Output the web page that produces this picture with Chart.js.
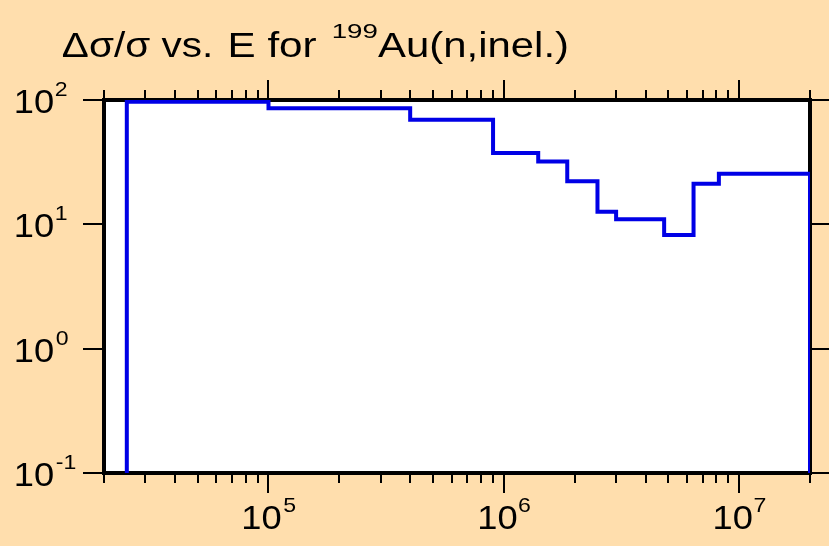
<!DOCTYPE html>
<html>
<head>
<meta charset="utf-8">
<script src="https://cdn.jsdelivr.net/npm/chart.js@4"></script>
<style>
  html, body { margin: 0; padding: 0; background: #FFDEAD; }
  canvas { display: block; }
</style>
</head>
<body>
<canvas id="grafico" width="829" height="546"></canvas>
<script>
// Dados (bordas dos grupos de energia em eV e Δσ/σ em %)
const binEdges = [2.5e4, 1e5, 4e5, 9e5, 1.4e6, 1.86e6, 2.5e6, 3e6, 4.8e6, 6.4e6, 8.2e6, 2e7];
const relErr = [97, 86, 69.5, 37.5, 32, 22.2, 12.6, 11, 8.2, 21.2, 25.5];

// Eixos
const xRange = [2e4, 2e7];
const yRange = [0.1, 100];
const xMajorTicks = [1e5, 1e6, 1e7];
const xTickExps = ['5', '6', '7'];
const yMajorTicks = [0.1, 1, 10, 100];
const yTickExps = ['-1', '0', '1', '2'];

const SX = 1.1; // fonte do original é mais larga que Arial
const FONT = '"Liberation Sans", Arial, Helvetica, sans-serif';

// histograma em degraus, descendo até a base nas duas pontas
const pontos = [{ x: binEdges[0], y: yRange[0] }];
relErr.forEach((v, i) => {
    pontos.push({ x: binEdges[i], y: v });
    pontos.push({ x: binEdges[i + 1], y: v });
});
pontos.push({ x: binEdges[binEdges.length - 1], y: yRange[0] });

// desenha o texto com a tinta começando em x (escala horizontal sx)
function texto(ctx, s, x, y, size, sx) {
    ctx.save();
    ctx.font = size + 'px ' + FONT;
    const m = ctx.measureText(s);
    ctx.translate(x + m.actualBoundingBoxLeft * sx, y);
    ctx.scale(sx, 1);
    ctx.fillText(s, 0, 0);
    ctx.restore();
    return (m.actualBoundingBoxLeft + m.actualBoundingBoxRight) * sx; // largura da tinta
}
function tinta(ctx, s, size, sx) {
    ctx.save();
    ctx.font = size + 'px ' + FONT;
    const m = ctx.measureText(s);
    ctx.restore();
    return (m.actualBoundingBoxLeft + m.actualBoundingBoxRight) * sx;
}
// texto esticado para ocupar de x0 até x1
function textoAjustado(ctx, s, x0, x1, y, size) {
    const sx = (x1 - x0) / tinta(ctx, s, size, 1);
    texto(ctx, s, x0, y, size, sx);
}

const moldura = {
    id: 'moldura',
    beforeDraw(chart) {
        const { ctx, chartArea: a } = chart;
        ctx.save();
        ctx.fillStyle = '#FFDEAD';
        ctx.fillRect(0, 0, chart.width, chart.height);
        ctx.fillStyle = '#ffffff';
        ctx.fillRect(a.left, a.top, a.right - a.left, a.bottom - a.top);
        ctx.restore();
    },
    beforeDatasetsDraw(chart) {
        const { ctx, chartArea: a, scales: { x, y } } = chart;
        ctx.save();
        ctx.strokeStyle = '#000';
        ctx.fillStyle = '#000';

        // marcas do eixo x (baixo e cima)
        ctx.lineWidth = 2;
        ctx.beginPath();
        for (let d = 4; d <= 7; d++) {
            for (let m = 1; m <= 9; m++) {
                const v = m * Math.pow(10, d);
                if (v < xRange[0] || v > xRange[1]) continue;
                const px = Math.round(x.getPixelForValue(v));
                const len = m === 1 ? 20 : 10;
                ctx.moveTo(px, a.bottom);
                ctx.lineTo(px, a.bottom + len);
                ctx.moveTo(px, a.top);
                ctx.lineTo(px, a.top - len);
            }
        }
        // marcas do eixo y (esquerda e direita)
        yMajorTicks.forEach(v => {
            const py = Math.round(y.getPixelForValue(v));
            ctx.moveTo(a.left - 21, py);
            ctx.lineTo(a.left + 2, py);
            ctx.moveTo(a.right, py);
            ctx.lineTo(a.right + 21, py);
        });
        ctx.stroke();

        // moldura
        ctx.lineWidth = 4;
        ctx.strokeRect(a.left, a.top, a.right - a.left, a.bottom - a.top);

        // rótulos x
        xMajorTicks.forEach((v, i) => {
            const px = x.getPixelForValue(v);
            const w1 = tinta(ctx, '10', 33, SX);
            const w2 = tinta(ctx, xTickExps[i], 21, SX);
            const x0 = px + 1 - (w1 + 2 + w2) / 2;
            texto(ctx, '10', x0, 529, 33, SX);
            texto(ctx, xTickExps[i], x0 + w1 + 2, 512, 21, SX);
        });
        // rótulos y
        yMajorTicks.forEach((v, i) => {
            const py = y.getPixelForValue(v);
            const w1 = texto(ctx, '10', 16, py + 13, 33, SX);
            texto(ctx, yTickExps[i], 16 + w1 + 2, py - 4, 21, SX);
        });

        // título
        textoAjustado(ctx, 'Δσ/σ vs.', 63, 210, 57, 35);
        textoAjustado(ctx, 'E for', 230, 317, 57, 35);
        textoAjustado(ctx, '199', 333, 377, 38, 21);
        textoAjustado(ctx, 'Au(n,inel.)', 378, 567, 57, 35);
        ctx.restore();
    }
};

new Chart(document.getElementById('grafico'), {
    type: 'line',
    data: {
        datasets: [{
            data: pontos,
            borderColor: '#0000e6',
            borderWidth: 4,
            pointRadius: 0,
            fill: false,
            tension: 0,
            borderJoinStyle: 'miter',
            borderCapStyle: 'butt'
        }]
    },
    options: {
        responsive: false,
        animation: false,
        devicePixelRatio: 1,
        layout: { padding: { left: 104, right: 19, top: 100, bottom: 73 } },
        plugins: { legend: { display: false }, tooltip: { enabled: false } },
        scales: {
            x: { type: 'logarithmic', min: xRange[0], max: xRange[1], display: false },
            y: { type: 'logarithmic', min: yRange[0], max: yRange[1], display: false }
        }
    },
    plugins: [moldura]
});
</script>
</body>
</html>
